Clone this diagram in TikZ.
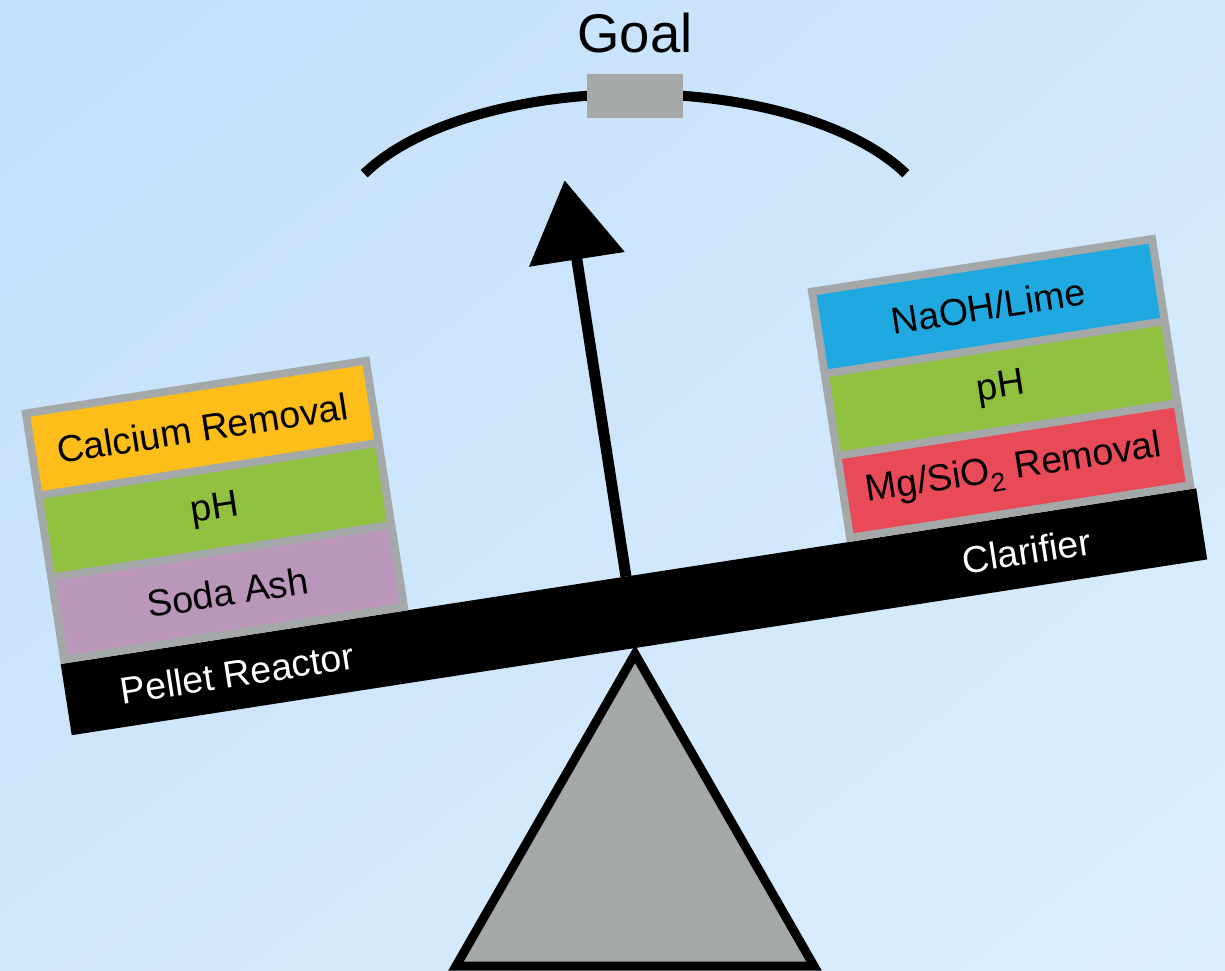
\documentclass[tikz,border=0pt]{standalone}
\usepackage{fontspec}
\setmainfont{Liberation Sans}
\usetikzlibrary{arrows.meta,shadings}
\definecolor{bgA}{HTML}{C1DFFB}
\definecolor{bgB}{HTML}{CFE7FC}
\definecolor{bgC}{HTML}{DCEEFD}
\definecolor{boxgray}{HTML}{A5A8A9}
\definecolor{calC}{HTML}{FDBE1B}
\definecolor{phC}{HTML}{8FC03F}
\definecolor{sodaC}{HTML}{BA97BA}
\definecolor{naohC}{HTML}{20A9E1}
\definecolor{mgC}{HTML}{E84A57}
\begin{document}
\begin{tikzpicture}[x=1pt,y=1pt,
  lbl/.style={font=\fontsize{37.5}{44}\selectfont, inner sep=0pt},
  layer/.style={lbl, minimum width=336pt, minimum height=75pt, text=black},
  frame/.style={fill=boxgray, minimum width=352pt, minimum height=257pt, inner sep=0pt}]
\useasboundingbox (0,0) rectangle (1225,970);
\shade[upper left=bgA, upper right=bgB, lower left=bgB, lower right=bgC] (0,0) rectangle (1225,970);

% goal arc
\draw[line width=10pt] ([shift={(154.5:300 and 140)}]635,736) arc[start angle=154.5, end angle=25.5, x radius=300, y radius=140];
\node[fill=boxgray, minimum width=96pt, minimum height=44pt, inner sep=0pt] (goalbox) at (635,874) {};
\node[font=\fontsize{54.5}{60}\selectfont, anchor=base, inner sep=0pt] (goal) at (635,917) {Goal};

% fulcrum
\draw[line width=9pt, fill=boxgray, line join=miter] (635,316) -- (814,4) -- (456,4) -- cycle;

\begin{scope}[shift={(635,322)}, rotate=8.8, transform shape]
  \fill[black] (-570,0) rectangle (579,72);
  % left stack
  \node[frame] (lframe) at (-394,200.5) {};
  \node[layer, fill=sodaC] (soda) at (-394,117.5) {Soda Ash};
  \node[layer, fill=phC] (lph) at (-394,200.5) {pH};
  \node[layer, fill=calC] (cal) at (-394,283.5) {Calcium Removal};
  % right stack
  \node[frame] (rframe) at (401.5,200.5) {};
  \node[layer, fill=mgC] (mg) at (401.5,117.5) {Mg/SiO\textsubscript{2} Removal};
  \node[layer, fill=phC] (rph) at (401.5,200.5) {pH};
  \node[layer, fill=naohC] (naoh) at (401.5,283.5) {NaOH/Lime};
  % beam labels
  \node[lbl, text=white] (pellet) at (-397,36) {Pellet Reactor};
  \node[lbl, text=white] (clar) at (402,36) {Clarifier};
  % arrow
  \coordinate (abase) at (2,72);
  \coordinate (atip) at (2,473);
  \draw[line width=11pt, -{Triangle[length=80pt,width=94pt]}] (abase) -- (atip);
\end{scope}
\end{tikzpicture}
\end{document}
